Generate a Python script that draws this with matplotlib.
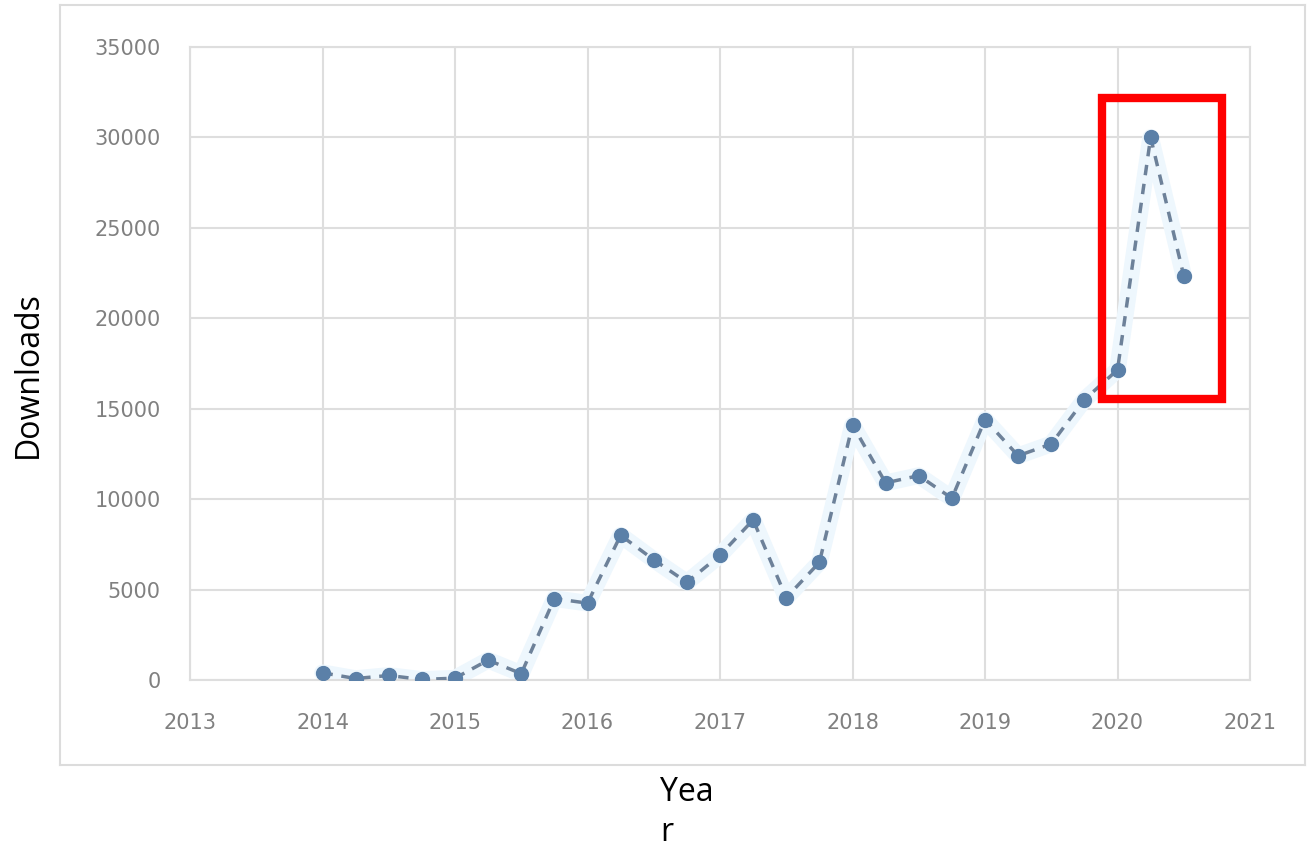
import matplotlib
matplotlib.use("Agg")
import matplotlib.pyplot as plt
from matplotlib.patches import Rectangle

years = [2014.0, 2014.25, 2014.5, 2014.75, 2015.0, 2015.25, 2015.5, 2015.75,
         2016.0, 2016.25, 2016.5, 2016.75, 2017.0, 2017.25, 2017.5, 2017.75,
         2018.0, 2018.25, 2018.5, 2018.75, 2019.0, 2019.25, 2019.5, 2019.75,
         2020.0, 2020.25, 2020.5]
downloads = [400, 80, 250, 30, 100, 1100, 350, 4500,
             4250, 8000, 6650, 5400, 6900, 8850, 4550, 6500,
             14100, 10900, 11300, 10050, 14400, 12400, 13050, 15500,
             17150, 30000, 22350]
x_ticks = [2013, 2014, 2015, 2016, 2017, 2018, 2019, 2020, 2021]
y_ticks = [0, 5000, 10000, 15000, 20000, 25000, 30000, 35000]
highlight_x = (2019.88, 2020.79)
highlight_y = (15550, 32200)

W, H = 1307, 847
fig = plt.figure(figsize=(W / 100, H / 100), dpi=100)
fig.patch.set_facecolor("white")

# Excel chart frame (background axes)
bg = fig.add_axes([60 / W, 1 - 765 / H, (1305 - 60) / W, (765 - 5) / H])
bg.set_zorder(-1)
bg.set_xticks([])
bg.set_yticks([])
bg.set_facecolor("white")
for s in bg.spines.values():
    s.set_color("#dcdcdc")
    s.set_linewidth(1.5)

ax = fig.add_axes([190 / W, 1 - 680 / H, (1250 - 190) / W, (680 - 47) / H])
ax.set_zorder(1)
ax.set_facecolor("white")
ax.set_xlim(2013, 2021)
ax.set_ylim(0, 35000)
ax.set_xticks(x_ticks)
ax.set_yticks(y_ticks)
ax.set_xticklabels([str(t) for t in x_ticks])
ax.set_yticklabels([str(t) for t in y_ticks])
ax.grid(True, color="#dedede", linewidth=1.5)
ax.set_axisbelow(True)
for s in ax.spines.values():
    s.set_color("#dedede")
    s.set_linewidth(1.5)
ax.tick_params(length=0, colors="#808080", labelsize=15, pad=21)
ax.tick_params(axis="x", pad=24)

# soft glow behind the series
ax.plot(years, downloads, color="#eef7fd", linewidth=12, solid_capstyle="round",
        solid_joinstyle="round", zorder=2)
ax.plot(years, downloads, color="#6d8199", linewidth=2.5, linestyle=(0, (3, 2.5)),
        marker="o", markersize=10, markerfacecolor="#5b80a8",
        markeredgecolor="#5b80a8", zorder=3)

ax.add_patch(Rectangle((highlight_x[0], highlight_y[0]),
                       highlight_x[1] - highlight_x[0],
                       highlight_y[1] - highlight_y[0],
                       fill=False, edgecolor="#ff0000", linewidth=6,
                       clip_on=False, zorder=5))

fig.text(28 / W, 1 - 375 / H, "Downloads", rotation=90, ha="center", va="center",
         fontsize=23, family="Open Sans", color="black")
fig.text(660 / W, 1 - 792 / H, "Yea", ha="left", va="center",
         fontsize=23, family="Open Sans", color="black")
fig.text(660 / W, 1 - 832 / H, "r", ha="left", va="center",
         fontsize=23, family="Open Sans", color="black")

fig.savefig("out.png", dpi=100, facecolor="white")
